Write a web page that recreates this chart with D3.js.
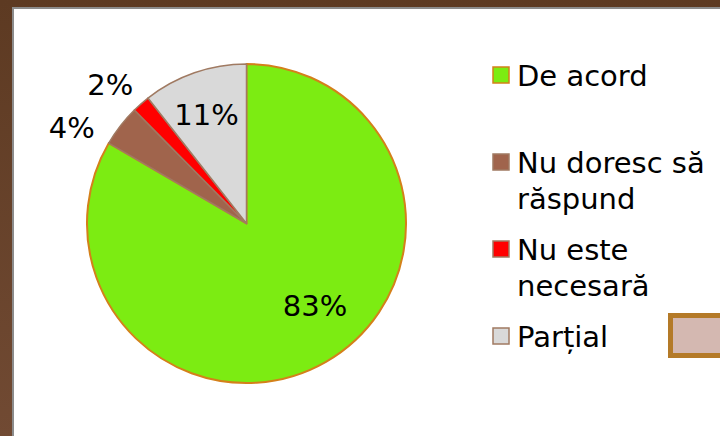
<!DOCTYPE html>
<html>
<head>
<meta charset="utf-8">
<script src="https://cdn.jsdelivr.net/npm/d3@7"></script>
<style>
	html, body { margin: 0; padding: 0; background: #fff; }
	svg { display: block; font-family: "DejaVu Sans", Verdana, sans-serif; }
</style>
</head>
<body>
<svg id="chart"></svg>
<script>
const WIDTH = 720;
const HEIGHT = 436;

// slice data, clockwise from 12 o'clock
const categories = ["De acord", "Nu doresc să răspund", "Nu este necesară", "Parțial"];
const values = [83.4, 4.2, 1.8, 10.6];
const percentLabels = ["83%", "4%", "2%", "11%"];
const legendLines = [["De acord"], ["Nu doresc să", "răspund"], ["Nu este", "necesară"], ["Parțial"]];

const fills = ["#7cec12", "#a0644c", "#ff0000", "#d9d9d9"];
const strokes = ["#d4801a", "#a07a62", "#a07a62", "#a07a62"];

const CX = 246.5;
const CY = 223.5;
const R = 159.5;

const svg = d3.select("#chart").attr("width", WIDTH).attr("height", HEIGHT);

// slide frame
const frameGrad = svg.append("defs").append("linearGradient")
	.attr("id", "frame").attr("x1", 0).attr("y1", 0).attr("x2", 0).attr("y2", 1);
frameGrad.append("stop").attr("offset", 0).attr("stop-color", "#5d3a22");
frameGrad.append("stop").attr("offset", 1).attr("stop-color", "#714a33");
svg.append("rect").attr("width", WIDTH).attr("height", HEIGHT).attr("fill", "url(#frame)");
svg.append("rect").attr("x", 12).attr("y", 7).attr("width", WIDTH).attr("height", HEIGHT)
	.attr("fill", "#8c8c8c");
svg.append("rect").attr("x", 14).attr("y", 9).attr("width", WIDTH).attr("height", HEIGHT)
	.attr("fill", "#fff");

const pie = d3.pie().sort(null).value(d => d)(values);
const arc = d3.arc().innerRadius(0).outerRadius(R);

const g = svg.append("g").attr("transform", `translate(${CX},${CY})`);

g.selectAll(".slice")
	.data(pie)
	.join("path")
	.attr("class", "slice")
	.attr("d", arc)
	.attr("fill", (d, i) => fills[i])
	.attr("stroke", (d, i) => strokes[i])
	.attr("stroke-width", (d, i) => (i === 0 ? 2 : 1.5))
	.attr("stroke-linejoin", "round");

// label placement: radius factor and angular shift (deg) per slice
const labelRadius = [0.67, 1.25, 1.22, 0.73];
const labelShift = [-10, -9, -3, -1];

g.selectAll(".pct")
	.data(pie)
	.join("text")
	.attr("class", "pct")
	.attr("transform", (d, i) => {
		const a = (d.startAngle + d.endAngle) / 2 + (labelShift[i] * Math.PI) / 180;
		const r = R * labelRadius[i];
		return `translate(${r * Math.sin(a)},${-r * Math.cos(a)})`;
	})
	.attr("text-anchor", "middle")
	.attr("dy", "0.36em")
	.attr("font-size", 29)
	.attr("fill", "#000")
	.text((d, i) => percentLabels[i]);

// legend
const legendTop = [67, 154, 241, 328];
const legend = svg.append("g").attr("transform", "translate(493,0)");
legend.selectAll(".mark")
	.data(categories)
	.join("rect")
	.attr("class", "mark")
	.attr("x", 0)
	.attr("y", (d, i) => legendTop[i])
	.attr("width", 16)
	.attr("height", 16)
	.attr("fill", (d, i) => fills[i])
	.attr("stroke", (d, i) => strokes[i])
	.attr("stroke-width", 1.5);

legend.selectAll(".item")
	.data(legendLines)
	.join("text")
	.attr("class", "item")
	.attr("x", 24)
	.attr("y", (d, i) => legendTop[i] + 19)
	.attr("font-size", 29)
	.attr("fill", "#000")
	.selectAll("tspan")
	.data(d => d)
	.join("tspan")
	.attr("x", 24)
	.attr("dy", (d, j) => (j === 0 ? 0 : 36))
	.text(d => d);

// stray shape at the right edge
svg.append("rect")
	.attr("x", 670.5).attr("y", 315.5).attr("width", 60).attr("height", 40)
	.attr("fill", "#d4b8b1").attr("stroke", "#b47a28").attr("stroke-width", 5);
</script>
</body>
</html>
